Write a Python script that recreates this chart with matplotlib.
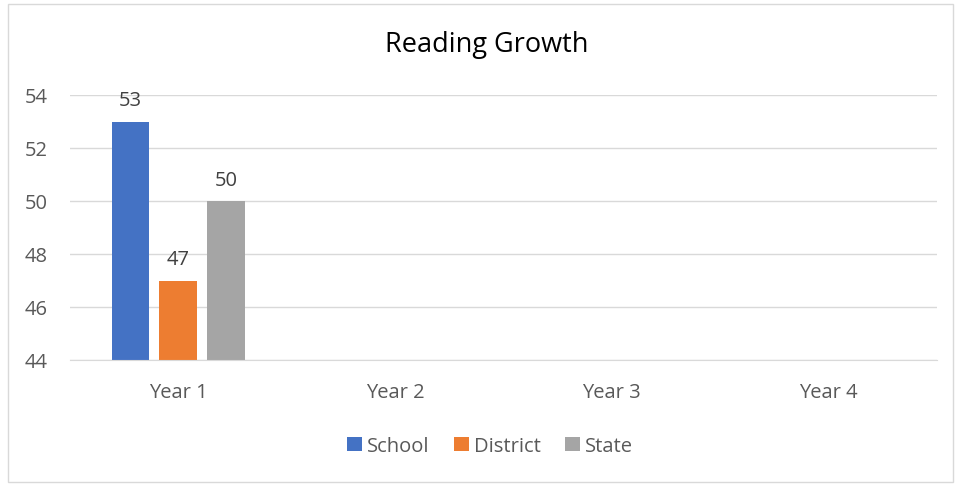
import numpy as np
import matplotlib.pyplot as plt
from matplotlib.patches import Rectangle

years = ['Year 1', 'Year 2', 'Year 3', 'Year 4']
school = [53, np.nan, np.nan, np.nan]
district = [47, np.nan, np.nan, np.nan]
state = [50, np.nan, np.nan, np.nan]

plt.rcParams['font.family'] = ['Open Sans', 'DejaVu Sans']

fig = plt.figure(figsize=(9.6, 4.85), dpi=100)
# outer chart border
fig.patches.append(Rectangle((8 / 960, 1 - 483 / 485), 945 / 960, 478 / 485,
                             transform=fig.transFigure, fill=False,
                             edgecolor='#d9d9d9', linewidth=1))

ax = fig.add_axes([70 / 960, 1 - 361 / 485, 867 / 960, 265 / 485])

x = np.arange(len(years))
w = 0.175
off = 0.221
series = [('School', school, '#4472C4'),
          ('District', district, '#ED7D31'),
          ('State', state, '#A5A5A5')]
for i, (name, vals, col) in enumerate(series):
    v = np.array(vals, dtype=float)
    bars = ax.bar(x + (i - 1) * off, v - 44, width=w, bottom=44, color=col, label=name)
    for b, val in zip(bars, v):
        if not np.isnan(val):
            ax.annotate(f'{val:.0f}', (b.get_x() + b.get_width() / 2, val),
                        xytext=(0, 8), textcoords='offset points',
                        ha='center', va='bottom', fontsize=14.5, color='#404040')

ax.set_ylim(44, 54)
ax.set_xlim(-0.5, 3.5)
ax.set_yticks(range(44, 55, 2))
ax.set_xticks(x)
ax.set_xticklabels(years)
ax.yaxis.grid(True, color='#d9d9d9', linewidth=1)
ax.set_axisbelow(True)
for s in ['top', 'right', 'left']:
    ax.spines[s].set_visible(False)
ax.spines['bottom'].set_color('#d9d9d9')
ax.tick_params(length=0, labelsize=14.5, labelcolor='#595959')
ax.tick_params(axis='x', pad=16)
ax.tick_params(axis='y', pad=16)

fig.text(487 / 960, 1 - 45 / 485, 'Reading Growth', ha='center', va='center',
         fontsize=19.5, color='#000000')

ax.legend(loc='center', bbox_to_anchor=(490 / 960, 1 - 447 / 485),
          bbox_transform=fig.transFigure, ncol=3, frameon=False,
          fontsize=14.5, labelcolor='#595959', handlelength=0.75,
          handleheight=0.75, handletextpad=0.25, columnspacing=1.2)

fig.savefig('out.png', dpi=100)
